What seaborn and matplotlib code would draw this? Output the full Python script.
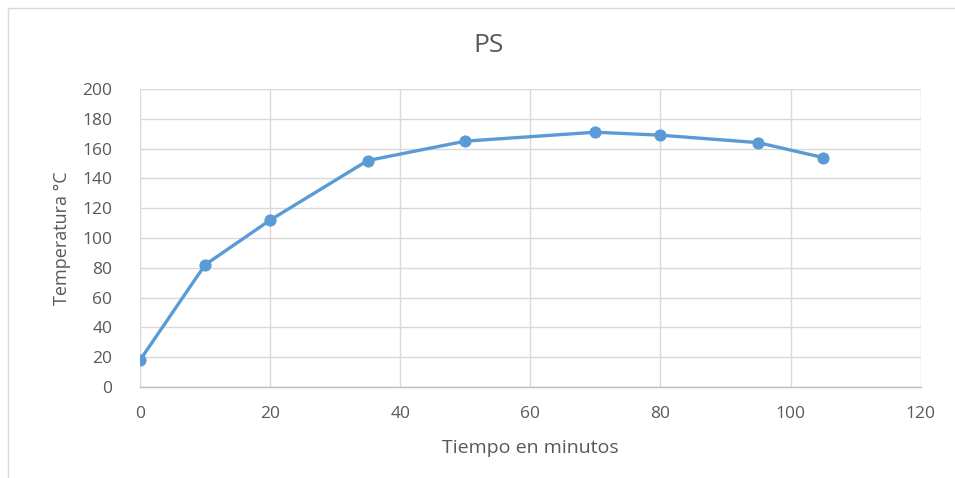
import matplotlib
matplotlib.use("Agg")
import matplotlib.pyplot as plt
import seaborn as sns
import pandas as pd
from matplotlib.patches import Rectangle

tiempo = [0, 10, 20, 35, 50, 70, 80, 95, 105]
temperatura = [18, 82, 112, 152, 165, 171, 169, 164, 154]
x_ticks = [0, 20, 40, 60, 80, 100, 120]
y_ticks = [0, 20, 40, 60, 80, 100, 120, 140, 160, 180, 200]

sns.set_theme(style="white")
plt.rcParams['font.family'] = ['Open Sans', 'DejaVu Sans']

df = pd.DataFrame({"Tiempo": tiempo, "Temperatura": temperatura})

fig = plt.figure(figsize=(9.55, 4.78), dpi=100)
ax = fig.add_axes([0.1466, 0.1904, 0.8175, 0.6234])

col = "#5B9BD5"
sns.lineplot(data=df, x="Tiempo", y="Temperatura", ax=ax, color=col,
             linewidth=2.4, marker="o", markersize=8, markeredgecolor=col,
             markerfacecolor=col)

ax.set_xlim(0, 120)
ax.set_ylim(0, 200)
ax.set_xticks(x_ticks)
ax.set_yticks(y_ticks)
ax.grid(True, color="#D9D9D9", linewidth=1)
for s in ["top", "right", "left"]:
    ax.spines[s].set_visible(False)
ax.spines["bottom"].set_color("#BFBFBF")
ax.spines["bottom"].set_linewidth(1)
ax.tick_params(axis="both", length=0, labelsize=12.5, colors="#595959")
ax.tick_params(axis="x", pad=14)
ax.tick_params(axis="y", pad=20)

ax.set_xlabel("Tiempo en minutos", fontsize=14, color="#595959", labelpad=12)
ax.set_ylabel("Temperatura °C", fontsize=13, color="#595959", labelpad=8)

fig.text(0.5115, 0.905, "PS", ha="center", va="center", fontsize=19, color="#595959")

fig.patches.append(Rectangle((8/955, -0.01), 1.0, 1 - 8/478 + 0.01,
                             transform=fig.transFigure, fill=False,
                             edgecolor="#D9D9D9", linewidth=1))

fig.savefig("out.png", dpi=100)
